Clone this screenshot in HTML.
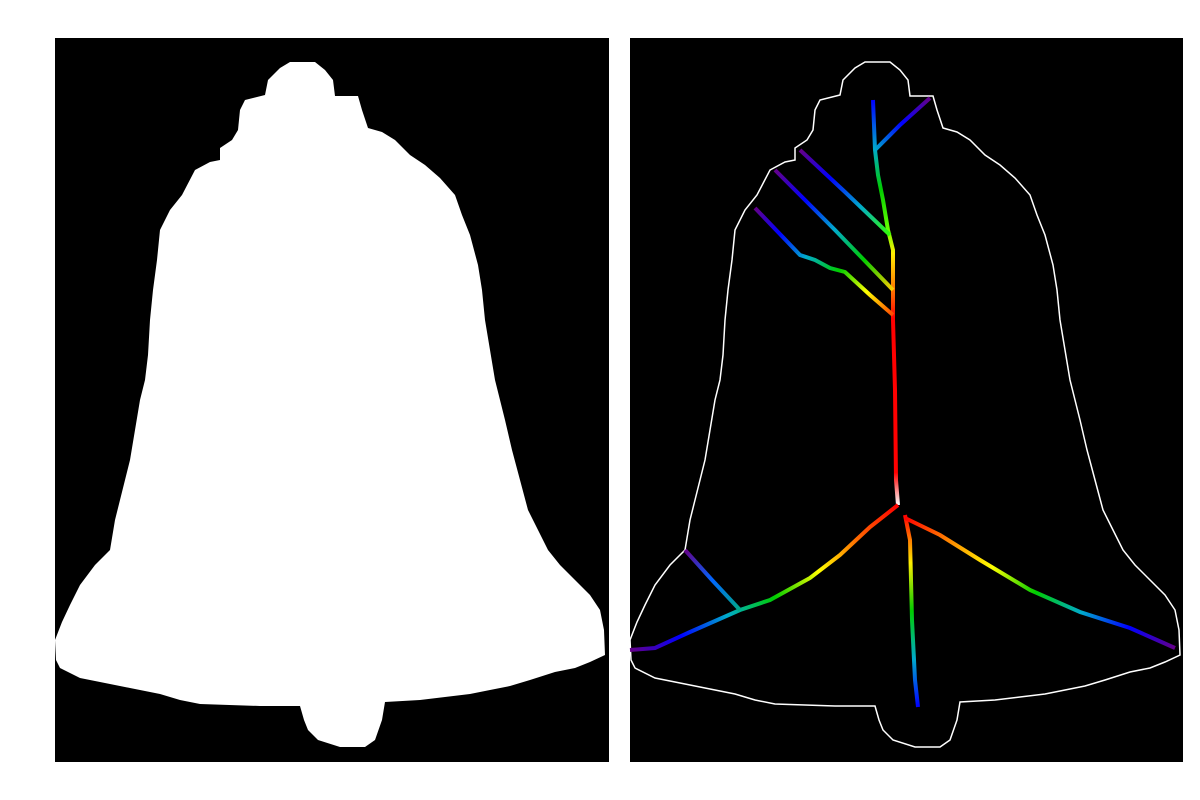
<!DOCTYPE html>
<html><head><meta charset="utf-8"><style>
html,body{margin:0;padding:0;background:#fff;width:1200px;height:800px;overflow:hidden}
svg{display:block}
</style></head><body>
<svg id="fig" width="1200" height="800" viewBox="0 0 1200 800" xmlns="http://www.w3.org/2000/svg">
<rect x="55" y="38" width="554" height="724" fill="#000"/>
<rect x="630" y="38" width="553" height="724" fill="#000"/>
<polygon id="bellFill" fill="#fff"/>
<polygon id="bellOutline" fill="none" stroke="#fff" stroke-width="1.5" transform="translate(575,0)"/>
<defs id="grads"></defs>
<g id="skel"></g>
</svg>
<script>
const outline = [[290,62],[315,62],[325,70],[333,80],[335,96],[358,96],[362,110],[368,128],[382,132],[395,140],[410,155],[425,165],[440,178],[455,195],[462,215],[470,235],[478,265],[482,290],[485,320],[490,350],[495,380],[500,400],[505,420],[512,450],[520,480],[528,510],[538,530],[548,550],[560,565],[575,580],[590,595],[600,610],[604,630],[605,655],[590,662],[575,668],[555,672],[530,680],[510,686],[490,690],[470,694],[445,697],[420,700],[385,702],[382,720],[375,740],[365,747],[340,747],[318,740],[308,730],[304,720],[300,706],[260,706],[200,704],[180,700],[160,694],[130,688],[100,682],[80,678],[60,668],[56,660],[55,640],[62,622],[70,605],[80,585],[95,565],[110,550],[115,520],[120,500],[125,480],[130,460],[135,430],[140,400],[145,380],[148,355],[150,320],[153,290],[157,260],[160,230],[170,210],[182,195],[195,170],[210,162],[220,160],[220,148],[232,140],[238,130],[240,110],[245,100],[265,95],[268,80],[280,68]];
const pts = outline.map(p=>p.join(',')).join(' ');
document.getElementById('bellFill').setAttribute('points',pts);
document.getElementById('bellOutline').setAttribute('points',pts);

const branches = [
 {pts:[[898,505],[896,480],[895,390],[893,320],[893,250],[888,230],[883,200],[878,175],[875,150],[873,100]], cols:['#ffffff','#ff0000','#ff0000','#ff6600','#ffee00','#66ff00','#00cc00','#00aacc','#0000ff'], offs:[0,0.08,0.46,0.52,0.62,0.68,0.78,0.88,1]},
 {pts:[[875,150],[900,125],[930,98]], cols:['#00aacc','#0000ff','#660088']},
 {pts:[[890,235],[845,192],[800,150]], cols:['#33ff00','#00aacc','#0000ff','#660088']},
 {pts:[[893,290],[835,230],[775,170]], cols:['#ffcc00','#00cc00','#00aacc','#0000ff','#660088']},
 {pts:[[893,315],[870,295],[845,272],[830,268],[815,260],[800,255],[755,208]], cols:['#ff4400','#ffff00','#00cc00','#00aacc','#0000ff','#660088']},
 {pts:[[898,505],[870,527],[840,555],[810,578],[770,600],[740,610],[690,632],[655,648],[630,650]], cols:['#ff0000','#ff6600','#ffff00','#00cc00','#00aacc','#0000ff','#660088']},
 {pts:[[740,610],[712,580],[685,550]], cols:['#00aa88','#0066ff','#660088']},
 {pts:[[905,515],[910,540],[912,620],[915,680],[918,707]], cols:['#ff0000','#ffee00','#00cc00','#00aacc','#0000ff']},
 {pts:[[905,518],[940,535],[980,560],[1030,590],[1080,612],[1130,628],[1175,648]], cols:['#ff0000','#ff8800','#ffff00','#00cc00','#00aacc','#0000ff','#660088']}
];
const NS='http://www.w3.org/2000/svg';
const defs=document.getElementById('grads'), g=document.getElementById('skel');
branches.forEach((b,i)=>{
  const s=b.pts[0], e=b.pts[b.pts.length-1];
  const lg=document.createElementNS(NS,'linearGradient');
  lg.setAttribute('id','gr'+i);
  lg.setAttribute('gradientUnits','userSpaceOnUse');
  lg.setAttribute('x1',s[0]);lg.setAttribute('y1',s[1]);lg.setAttribute('x2',e[0]);lg.setAttribute('y2',e[1]);
  b.cols.forEach((c,k)=>{
    const st=document.createElementNS(NS,'stop');
    const o=b.offs?b.offs[k]:k/(b.cols.length-1);
    st.setAttribute('offset',o.toFixed(3));
    st.setAttribute('stop-color',c);
    lg.appendChild(st);
  });
  defs.appendChild(lg);
  const pl=document.createElementNS(NS,'polyline');
  
  
  pl.setAttribute('points',b.pts.map(p=>p.join(',')).join(' '));
  pl.setAttribute('fill','none');
  pl.setAttribute('stroke','url(#gr'+i+')');
  pl.setAttribute('stroke-width','4');
  g.appendChild(pl);
});
</script>
</body></html>
